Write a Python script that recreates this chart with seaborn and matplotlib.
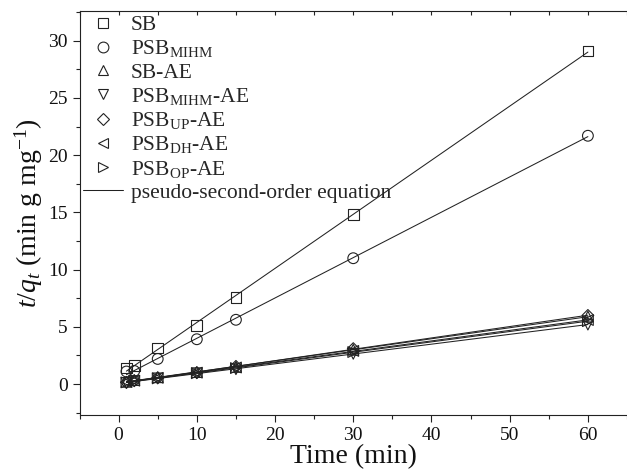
import numpy as np
import pandas as pd
import matplotlib
matplotlib.use("Agg")
import matplotlib.pyplot as plt
import seaborn as sns
from matplotlib.lines import Line2D
from matplotlib.ticker import MultipleLocator

# ---- data ----
time_min = [1, 2, 5, 10, 15, 30, 60]
sb = [1.40, 1.60, 3.15, 5.10, 7.60, 14.80, 29.10]
psb_mihm = [1.10, 1.15, 2.20, 3.92, 5.62, 11.00, 21.70]
sb_ae = [0.20, 0.35, 0.60, 1.05, 1.50, 3.00, 5.90]
psb_mihm_ae = [0.10, 0.25, 0.50, 0.95, 1.30, 2.65, 5.20]
psb_up_ae = [0.15, 0.30, 0.55, 1.00, 1.55, 3.10, 6.00]
psb_dh_ae = [0.20, 0.30, 0.55, 1.00, 1.45, 2.90, 5.60]
psb_op_ae = [0.15, 0.30, 0.50, 0.95, 1.40, 2.80, 5.50]

series_labels = ["SB", r"PSB$_{\mathrm{MIHM}}$", "SB-AE", r"PSB$_{\mathrm{MIHM}}$-AE",
                 r"PSB$_{\mathrm{UP}}$-AE", r"PSB$_{\mathrm{DH}}$-AE", r"PSB$_{\mathrm{OP}}$-AE"]
series_values = [sb, psb_mihm, sb_ae, psb_mihm_ae, psb_up_ae, psb_dh_ae, psb_op_ae]
markers = ["s", "o", "^", "v", "D", "<", ">"]
marker_area = [60, 60, 60, 60, 36, 60, 60]
fit_label = "pseudo-second-order equation"

x_ticks_major = [0, 10, 20, 30, 40, 50, 60]
y_ticks_major = [0, 5, 10, 15, 20, 25, 30]

# ---- style ----
sns.set_theme(style="ticks")
plt.rcParams["font.family"] = ["Liberation Serif", "DejaVu Serif"]
plt.rcParams["mathtext.fontset"] = "custom"
plt.rcParams["mathtext.rm"] = "Liberation Serif"
plt.rcParams["mathtext.it"] = "Liberation Serif:italic"
plt.rcParams["mathtext.bf"] = "Liberation Serif:bold"

ink = "#222222"

fig = plt.figure(figsize=(6.27, 4.71), dpi=100)
ax = fig.add_axes([0.1268, 0.1189, 0.8732, 0.8577])

frames = []
for lab, vals in zip(series_labels, series_values):
    frames.append(pd.DataFrame({"time": time_min, "tq": vals, "series": lab}))
df = pd.concat(frames, ignore_index=True)

handles = []
for lab, mk, ms in zip(series_labels, markers, marker_area):
    sub = df[df["series"] == lab]
    sns.regplot(data=sub, x="time", y="tq", ax=ax, scatter=False, ci=None,
                truncate=True, line_kws=dict(color=ink, lw=0.75))
    sns.scatterplot(data=sub, x="time", y="tq", ax=ax, marker=mk, s=ms,
                    facecolors="none", edgecolor=ink, linewidth=0.8, zorder=3)
    handles.append(Line2D([], [], ls="none", marker=mk, markersize=np.sqrt(ms),
                          markerfacecolor="none", markeredgecolor=ink,
                          markeredgewidth=0.8, label=lab))
handles.append(Line2D([], [], color=ink, lw=0.75, label=fit_label))

ax.set_xlim(-5, 65)
ax.set_ylim(-2.7, 32.6)
ax.set_xticks(x_ticks_major)
ax.set_yticks(y_ticks_major)
ax.xaxis.set_minor_locator(MultipleLocator(5))
ax.yaxis.set_minor_locator(MultipleLocator(2.5))
ax.tick_params(axis="both", which="major", labelsize=14, color=ink, labelcolor="#111111",
               direction="out", length=5, width=0.8)
ax.tick_params(axis="both", which="minor", direction="out", length=3, width=0.8, color=ink)
for sp in ["left", "bottom", "top"]:
    ax.spines[sp].set_color(ink)
    ax.spines[sp].set_linewidth(0.8)
ax.spines["right"].set_visible(False)

# top ticks point inward, unlabelled
ax.xaxis.set_tick_params(which="both", top=True, labeltop=False)
for t in ax.xaxis.get_major_ticks() + ax.xaxis.get_minor_ticks():
    t.tick2line.set_marker(3)  # TICKDOWN
    t.tick2line.set_markersize(3)

ax.set_xlabel("Time (min)", fontsize=20, labelpad=0.5, color="#111111")
ax.set_ylabel(r"$t/q_t$ (min g mg$^{-1}$)", fontsize=20, labelpad=2, color="#111111")

ax.legend(handles=handles, loc="upper left", bbox_to_anchor=(0.006, 0.99),
          frameon=False, fontsize=15.5, handlelength=1.87, handletextpad=0.37,
          labelspacing=0.15, borderpad=0, borderaxespad=0)

fig.savefig("out.png", dpi=100)
